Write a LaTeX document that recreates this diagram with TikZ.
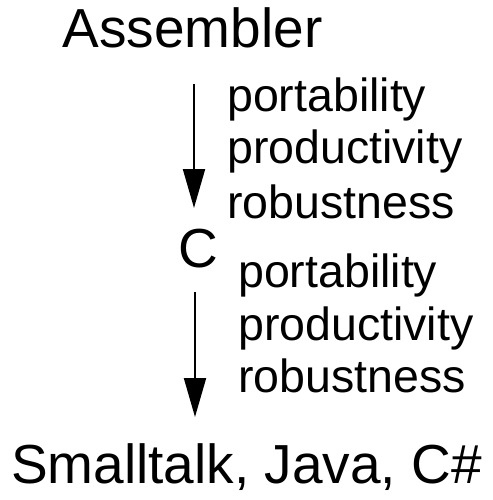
\documentclass[tikz,border=0pt]{standalone}
\usepackage{fontspec}
\setmainfont{Liberation Sans}
\usetikzlibrary{arrows.meta}
\tikzset{
  lang/.style={inner sep=0pt, anchor=base, font=\fontsize{55}{55}\selectfont},
  gain/.style={inner sep=0pt, anchor=base west, font=\fontsize{46.5}{46.5}\selectfont},
  evolve/.style={line width=2pt, -{Triangle[length=39pt,width=22pt]}}
}
\begin{document}
\begin{tikzpicture}[x=1pt,y=-1pt]
  \useasboundingbox (0,0) rectangle (492,500);
  % languages
  \node[lang] (asm) at (192.5,48) {Assembler};
  \node[lang] (c) at (198,267) {C};
  \node[lang] (oo) at (246.5,483) {Smalltalk, Java, C\#};
  % step from Assembler to C
  \coordinate (a1) at (194,84);
  \coordinate (a2) at (194,208);
  \draw[evolve] (a1) -- (a2);
  \node[gain] (p1) at (227,112) {portability};
  \node[gain] (q1) at (227,163) {productivity};
  \node[gain] (r1) at (227,218) {robustness};
  % step from C to the object languages
  \coordinate (b1) at (195,292);
  \coordinate (b2) at (195,417);
  \draw[evolve] (b1) -- (b2);
  \node[gain] (p2) at (238,287) {portability};
  \node[gain] (q2) at (238,340) {productivity};
  \node[gain] (r2) at (238,392) {robustness};
\end{tikzpicture}
\end{document}
